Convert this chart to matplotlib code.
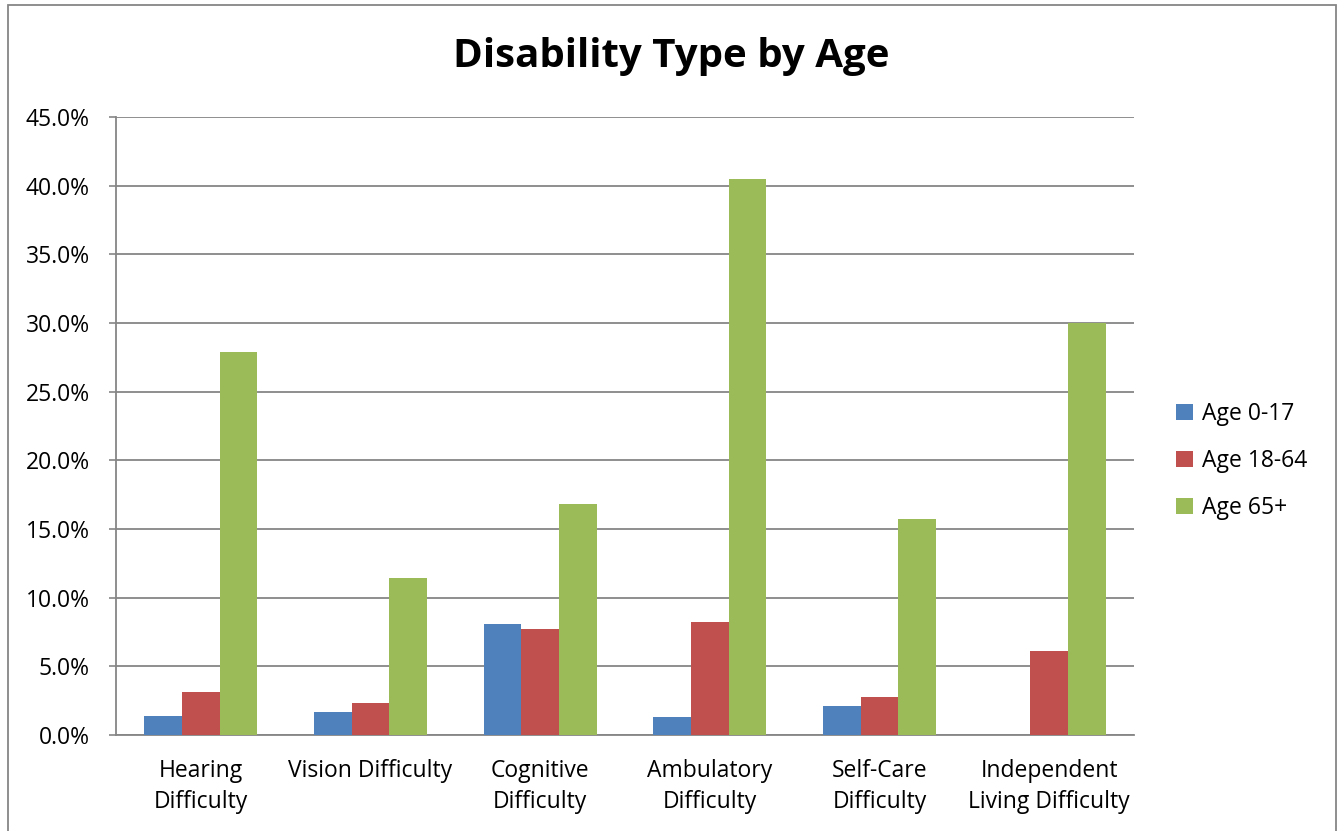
import matplotlib
matplotlib.use("Agg")
import matplotlib.pyplot as plt
from matplotlib.patches import Rectangle
import numpy as np

categories = ["Hearing\nDifficulty", "Vision Difficulty", "Cognitive\nDifficulty",
              "Ambulatory\nDifficulty", "Self-Care\nDifficulty", "Independent\nLiving Difficulty"]
series_names = ["Age 0-17", "Age 18-64", "Age 65+"]
age_0_17 = [1.4, 1.7, 8.1, 1.3, 2.1, 0.0]
age_18_64 = [3.1, 2.3, 7.7, 8.2, 2.8, 6.1]
age_65_plus = [27.9, 11.4, 16.8, 40.5, 15.7, 30.0]
yticks = [0, 5, 10, 15, 20, 25, 30, 35, 40, 45]
colors = ["#4F81BD", "#C0504D", "#9BBB59"]

plt.rcParams['font.family'] = ['Open Sans', 'DejaVu Sans']

W, H = 1343, 831
fig = plt.figure(figsize=(W/100, H/100), dpi=100)
ax = fig.add_axes([116/W, 1-735/H, (1134-116)/W, (735-117)/H])

x = np.arange(len(categories))
bw = 0.222
for i, (vals, c, n) in enumerate(zip([age_0_17, age_18_64, age_65_plus], colors, series_names)):
    ax.bar(x + (i-1)*bw, vals, width=bw, color=c, label=n, zorder=3)

ax.set_xlim(-0.5, len(categories)-0.5)
ax.set_ylim(0, 45)
ax.set_yticks(yticks)
ax.set_yticklabels([f"{v:.1f}%" for v in yticks], fontsize=16.5)
ax.set_xticks(x)
ax.set_xticklabels(categories, fontsize=16.5, linespacing=1.42)
ax.tick_params(axis='x', length=0, pad=17)
ax.tick_params(axis='y', length=5, color='#868686', width=1.2, pad=14)
ax.grid(axis='y', color='#868686', linewidth=1.3, zorder=0)
for s in ['top', 'right']:
    ax.spines[s].set_visible(False)
for s in ['left', 'bottom']:
    ax.spines[s].set_color('#868686')
    ax.spines[s].set_linewidth(1.3)

fig.text(671/W, 1-57/H, "Disability Type by Age", ha='center', va='center',
         fontsize=29, fontweight='bold')

leg = fig.legend(loc='center left', bbox_to_anchor=(1155/W, 1-461/H), frameon=False,
                 fontsize=16.5, handlelength=0.75, handleheight=0.75, labelspacing=1.0,
                 handletextpad=0.4)

fig.patches.append(Rectangle((8/W, -0.01), (1336-8)/W, 1.01-5/H, transform=fig.transFigure,
                             fill=False, edgecolor='#868686', linewidth=1.3))

fig.savefig("out.png", dpi=100)
